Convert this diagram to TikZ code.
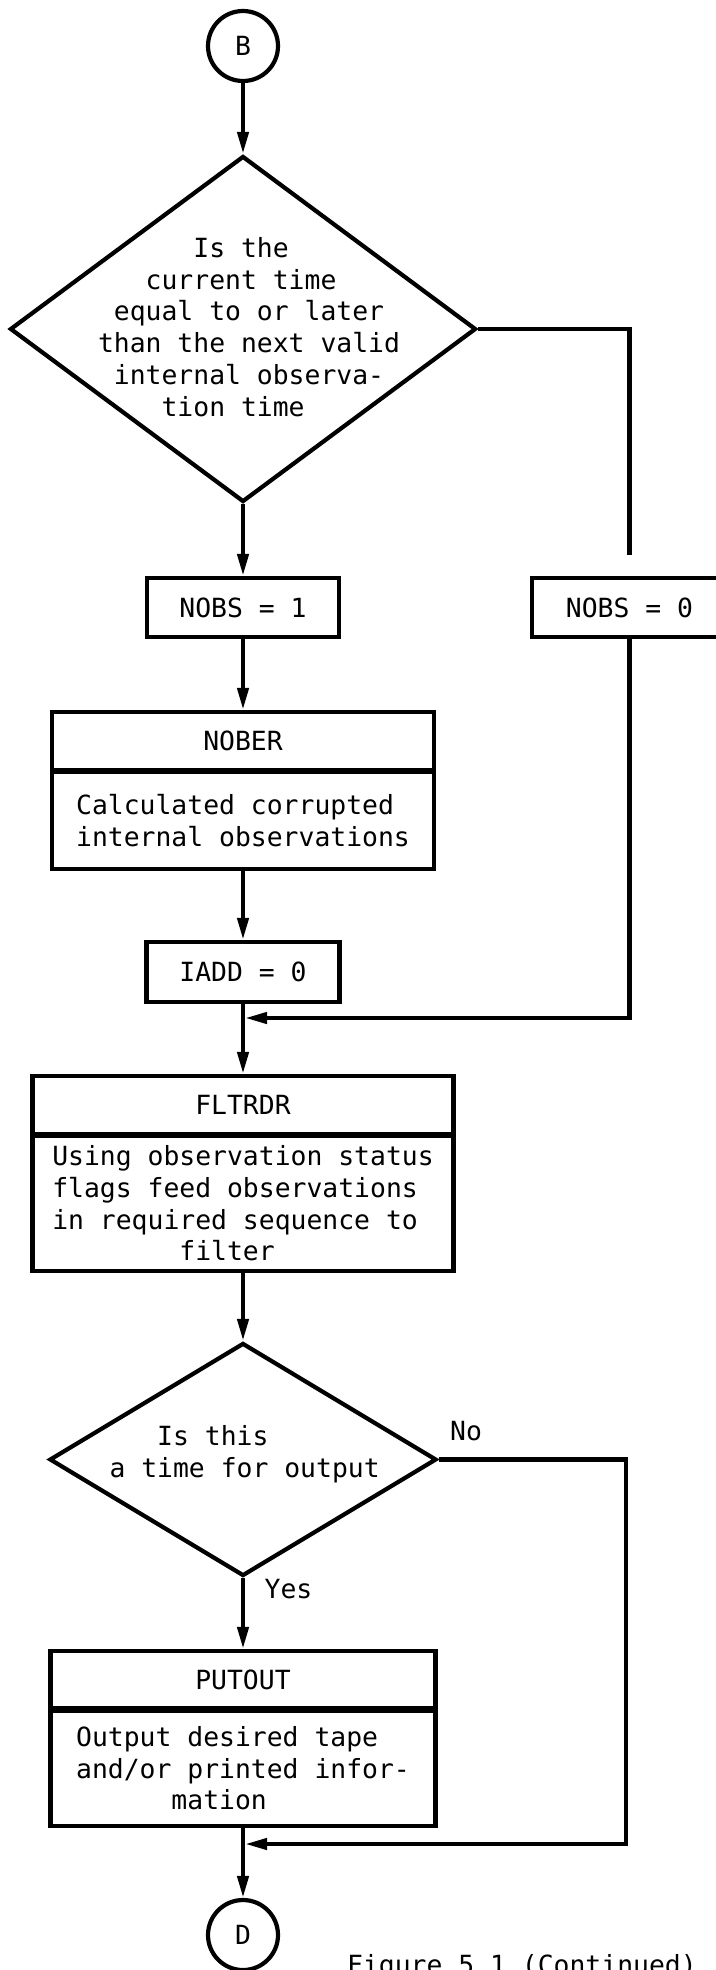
\documentclass[tikz,border=0pt]{standalone}
\usepackage{fontspec}
\newfontfamily\typew{DejaVu Sans Mono}
\usetikzlibrary{shapes.geometric,arrows.meta}
\begin{document}
\begin{tikzpicture}[x=1pt,y=-1pt,
  line width=4.2pt,
  every node/.style={font=\typew\fontsize{26.4}{31.7}\selectfont, inner sep=0pt},
  box/.style={draw, rectangle, minimum height=59pt},
  conn/.style={-{Triangle[length=22pt,width=11pt]}},
  dia/.style={draw, diamond},
  term/.style={draw, circle, minimum size=70pt},
  lbl/.style={align=left}]
\useasboundingbox (0,0) rectangle (715,1970);
% terminals
\node[term] (B) at (243,46) {B};
\node[term] (D) at (243,1935) {D};
% decision 1
\node[dia, minimum width=466pt, minimum height=346pt] (d1) at (243,329) {};
\node[lbl] (t1) at (249,327) {\phantom{xxxxxx}Is the\\\phantom{xxx}current time\\\phantom{x}equal to or later\\than the next valid\\\phantom{x}internal observa-\\\phantom{xxxx}tion time};
% assignments
\node[box, minimum width=192pt] (n1) at (243,607.5) {NOBS = 1};
\node[box, minimum width=195pt] (n0) at (629.5,607.5) {NOBS = 0};
% NOBER
\node[box, minimum width=382pt, minimum height=58pt] (nbh) at (243,741) {NOBER};
\node[box, lbl, minimum width=382pt, minimum height=97pt, anchor=north, outer sep=0pt] (nbb) at (nbh.south) {Calculated corrupted\\internal observations};
% IADD
\node[box, minimum width=193pt, minimum height=60pt] (iadd) at (243,972) {IADD = 0};
% FLTRDR
\node[box, minimum width=421pt, minimum height=58pt] (fh) at (243,1105) {FLTRDR};
\node[box, lbl, minimum width=421pt, minimum height=134.5pt, anchor=north, outer sep=0pt] (fb) at (fh.south) {Using observation status\\flags feed observations\\in required sequence to\\\phantom{xxxxxxxx}filter};
% decision 2
\node[dia, minimum width=387pt, minimum height=233pt] (d2) at (243,1459.5) {};
\node[lbl] (t2) at (244.6,1454.2) {\phantom{xxx}Is this\\a time for output};
\node (no) at (466,1431) {No};
\node (yes) at (288.5,1589) {Yes};
% PUTOUT
\node[box, minimum width=385pt, minimum height=57.5pt] (ph) at (243,1679.75) {PUTOUT};
\node[box, lbl, minimum width=385pt, minimum height=115.5pt, anchor=north, outer sep=0pt] (pb) at (ph.south) {Output desired tape\\and/or printed infor-\\\phantom{xxxxxx}mation};
% caption
\node[anchor=base west] (cap) at (345,1974.5) {Figure 5.1 (Continued)};
% junction points
\coordinate (j1) at (243,1018);
\coordinate (r2) at (626,1844);
\coordinate (j2) at (243,1844);
% connectors
\draw[conn] (B.south) -- (d1.north);
\draw[conn] (d1.south) -- (n1.north);
\draw[shorten >=21pt] (d1.east) -| (n0.north);
\draw[conn] (n1.south) -- (nbh.north);
\draw[conn] (nbb.south) -- (iadd.north);
\draw[conn] (iadd.south) -- (fh.north);
\draw[conn, shorten >=2pt] (n0.south) |- (j1);
\draw[conn] (fb.south) -- (d2.north);
\draw[conn] (d2.south) -- (ph.north);
\draw[conn, shorten >=2pt] (d2.east) -| (r2) -- (j2);
\draw[conn] (pb.south) -- (D.north);
\end{tikzpicture}
\end{document}
